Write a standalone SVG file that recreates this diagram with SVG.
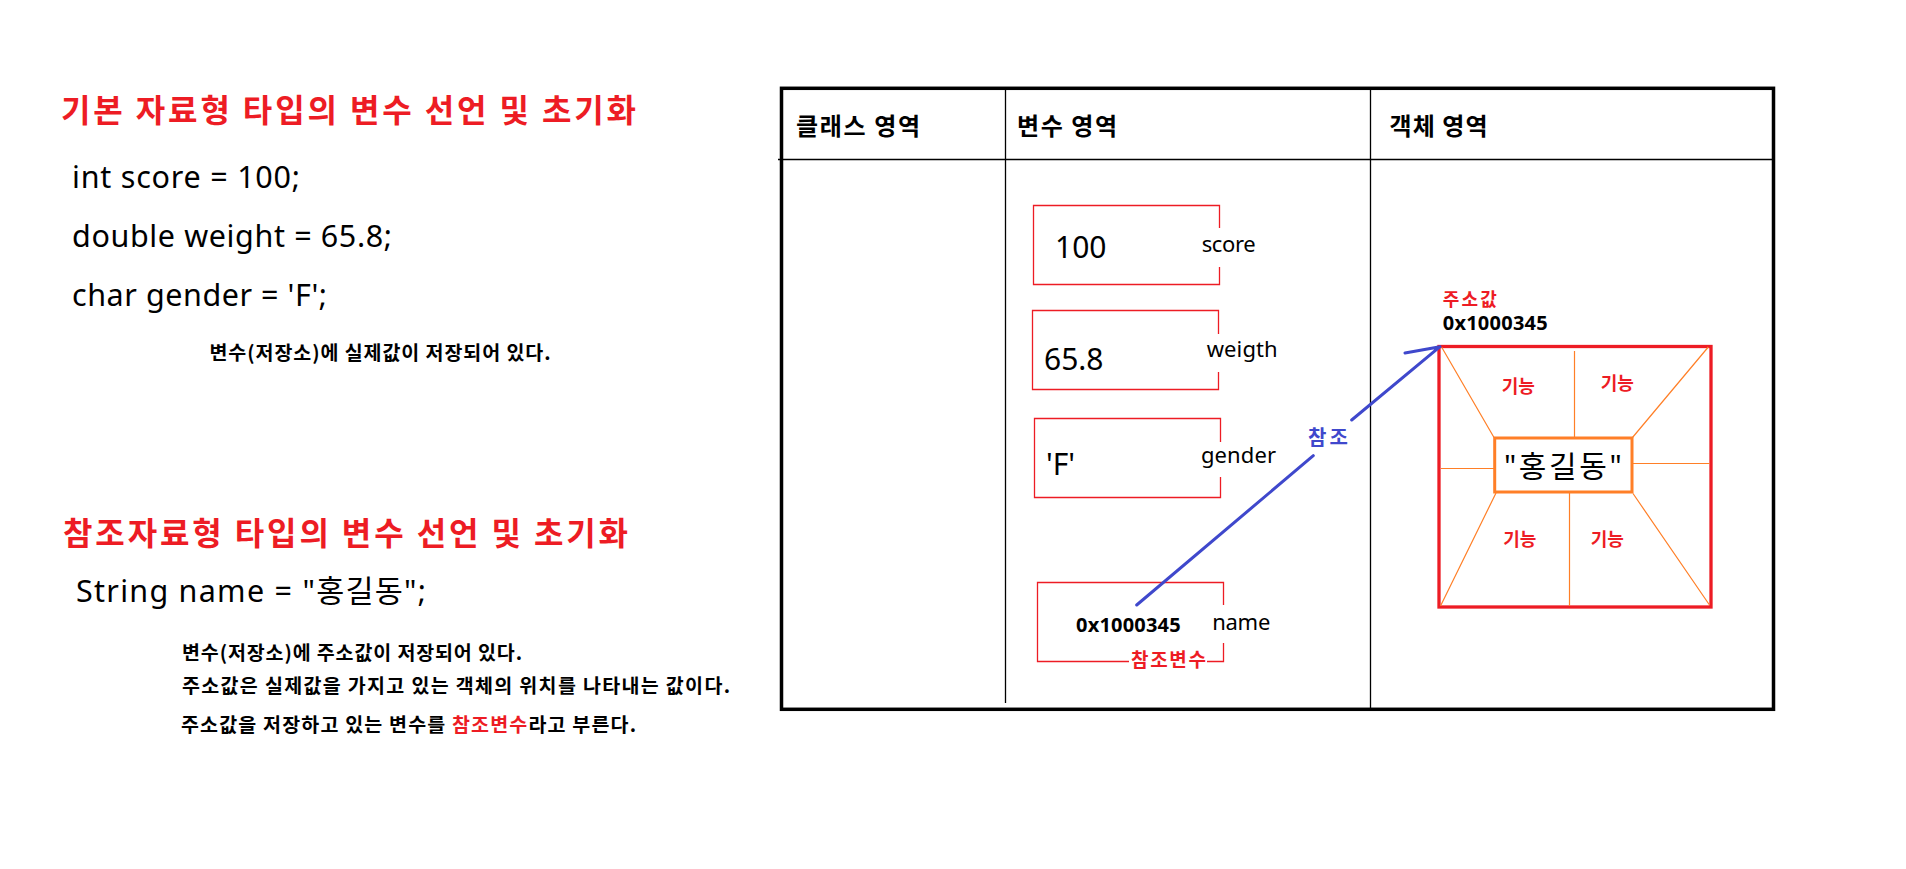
<svg xmlns="http://www.w3.org/2000/svg" width="1906" height="869" viewBox="0 0 1906 869">
<style>
text{font-family:"Noto Sans","Noto Sans CJK KR",sans-serif;fill:#000}
.title{font-family:"Noto Sans CJK KR","Noto Sans",sans-serif;font-weight:700;font-size:32px;fill:#ed1c24}
.code{font-size:30.5px}
.note{font-family:"Noto Sans CJK KR","Noto Sans",sans-serif;font-weight:700;font-size:19.5px}
.hdr{font-family:"Noto Sans CJK KR","Noto Sans",sans-serif;font-weight:700;font-size:24px}
.val{font-size:30px}
.lbl{font-size:22px}
.addr{font-weight:700;font-size:20px}
.kred{font-family:"Noto Sans CJK KR","Noto Sans",sans-serif;font-weight:700;font-size:18px;fill:#ed1c24}
.red{fill:#ed1c24}
.box{fill:none;stroke:#ed1c24;stroke-width:1.3}
.thin{fill:none;stroke:#ff7f27;stroke-width:1.2}
.rule{fill:none;stroke:#000;stroke-width:1.3}
</style>

<g id="primitive-text">
<text class="title" x="61" y="122" textLength="575" lengthAdjust="spacing">기본 자료형 타입의 변수 선언 및 초기화</text>
<text class="code" x="72" y="188" textLength="228" lengthAdjust="spacing">int score = 100;</text>
<text class="code" x="72" y="247" textLength="320" lengthAdjust="spacing">double weight = 65.8;</text>
<text class="code" x="72" y="306" textLength="255" lengthAdjust="spacing">char gender = 'F';</text>
<text class="note" x="209.5" y="360" textLength="341" lengthAdjust="spacing">변수(저장소)에 실제값이 저장되어 있다.</text>
</g>

<g id="reference-text">
<text class="title" x="63" y="545" textLength="565" lengthAdjust="spacing">참조자료형 타입의 변수 선언 및 초기화</text>
<text class="code" x="76" y="602" textLength="350" lengthAdjust="spacing">String name = "홍길동";</text>
<text class="note" x="182" y="660" textLength="340" lengthAdjust="spacing">변수(저장소)에 주소값이 저장되어 있다.</text>
<text class="note" x="182" y="693" textLength="548" lengthAdjust="spacing">주소값은 실제값을 가지고 있는 객체의 위치를 나타내는 값이다.</text>
<text class="note" x="181" y="732" textLength="455" lengthAdjust="spacing">주소값을 저장하고 있는 변수를 <tspan class="red">참조변수</tspan>라고 부른다.</text>
</g>

<g id="memory-table">
<rect x="781.5" y="88.3" width="992" height="621" fill="none" stroke="#000" stroke-width="3.5"/>
<path class="rule" d="M778,159.5 H1773"/>
<path class="rule" d="M1005.5,88 V703"/>
<path class="rule" d="M1370.5,88 V709"/>
<text class="hdr" x="796" y="134.5" textLength="124" lengthAdjust="spacing">클래스 영역</text>
<text class="hdr" x="1017" y="134.5" textLength="100" lengthAdjust="spacing">변수 영역</text>
<text class="hdr" x="1389.5" y="134.5" textLength="98" lengthAdjust="spacing">객체 영역</text>
</g>

<g id="var-score">
<path class="box" d="M1219.5,228 V205.5 H1033.5 V284.5 H1219.5 V267"/>
<text class="val" x="1055" y="257.7">100</text>
<text class="lbl" x="1201.7" y="251.7" textLength="54" lengthAdjust="spacing">score</text>
</g>

<g id="var-weight">
<path class="box" d="M1218.5,334 V310.5 H1032.5 V389.5 H1218.5 V372"/>
<text class="val" x="1044" y="370">65.8</text>
<text class="lbl" x="1206.7" y="356.7" textLength="71" lengthAdjust="spacing">weigth</text>
</g>

<g id="var-gender">
<path class="box" d="M1220.5,442 V418.5 H1034.5 V497.5 H1220.5 V477"/>
<text class="val" x="1046" y="475">'F'</text>
<text class="lbl" x="1201" y="463.3" textLength="75" lengthAdjust="spacing">gender</text>
</g>

<g id="var-name">
<path class="box" d="M1223.5,605 V582.5 H1037.5 V661.5 H1129 M1207,661.5 H1223.5 V643"/>
<text class="addr" x="1076" y="631.7" textLength="104.7" lengthAdjust="spacing">0x1000345</text>
<text class="lbl" x="1212.3" y="630" textLength="58" lengthAdjust="spacing">name</text>
<text class="kred" style="font-size:19px" x="1131" y="666.5" textLength="75" lengthAdjust="spacing">참조변수</text>
</g>

<g id="object-hong">
<text class="kred" x="1442.7" y="305.5" textLength="54" lengthAdjust="spacing">주소값</text>
<text class="addr" x="1442.7" y="330" textLength="105" lengthAdjust="spacing">0x1000345</text>
<rect x="1439" y="346.5" width="272" height="260.5" fill="none" stroke="#ed1c24" stroke-width="3.3"/>
<path class="thin" d="M1441.7,347.3 L1494,437.5 M1574.5,351 V437 M1708.3,347 L1632.5,437.5 M1441,468.5 H1494 M1632,463.5 H1710 M1496,493 L1440.5,606 M1569.5,492.5 V606 M1633,493.5 L1709.5,605"/>
<rect x="1494.7" y="438" width="137.3" height="54" fill="#fff" stroke="#ff7f27" stroke-width="3"/>
<text style="font-family:'Noto Sans','Noto Sans CJK KR',sans-serif;font-size:30px" x="1504" y="477" textLength="117.7" lengthAdjust="spacing">"홍길동"</text>
<text class="kred" x="1501.7" y="393">기능</text>
<text class="kred" x="1600.7" y="390">기능</text>
<text class="kred" x="1503.3" y="545.5">기능</text>
<text class="kred" x="1590.7" y="545.5">기능</text>
</g>

<g id="connectors">
<path d="M1136.7,605 L1313.3,455.7 M1351.7,420 L1440,346.7 M1405,353 L1440,346.7" fill="none" stroke="#3f48cc" stroke-width="3" stroke-linecap="round"/>
<text style="font-family:'Noto Sans CJK KR',sans-serif;font-weight:700;font-size:20px;fill:#3f48cc" x="1308" y="445" textLength="40" lengthAdjust="spacing">참조</text>
</g>
</svg>
